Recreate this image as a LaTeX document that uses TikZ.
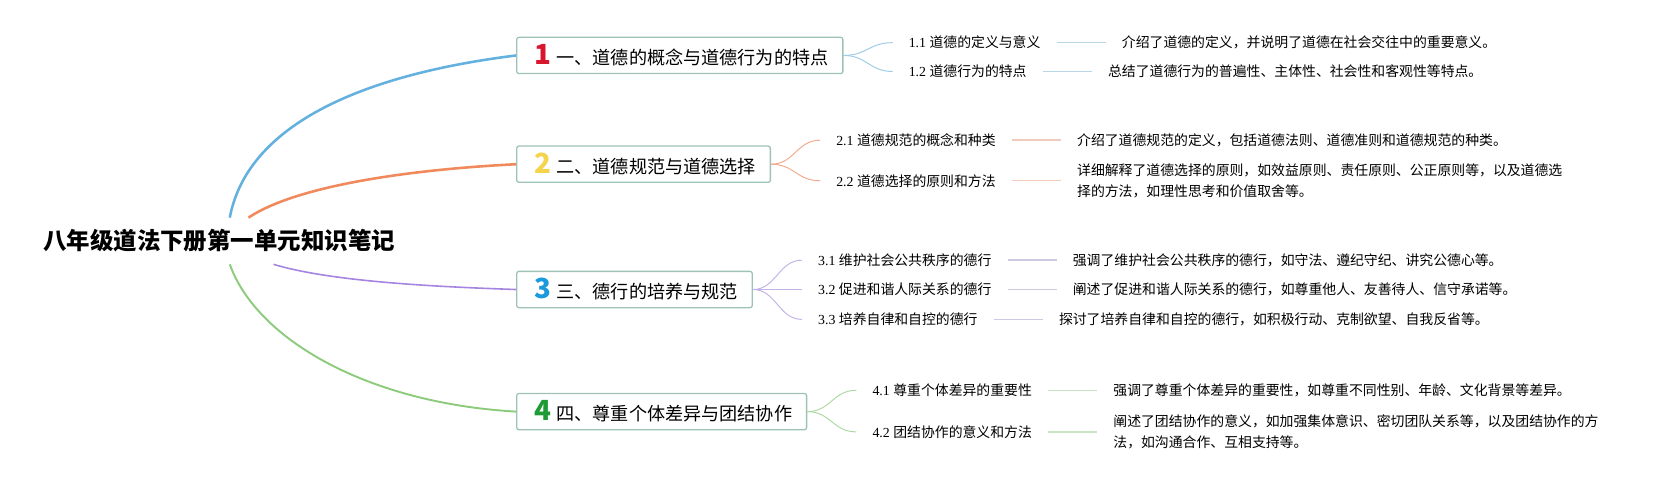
\documentclass[tikz,border=0pt]{standalone}
\usepackage{fontspec}
\setmainfont{Liberation Serif}
\newfontfamily\cjk{Noto Sans CJK SC}
\usetikzlibrary{positioning}

\definecolor{boxline}{HTML}{9FC2B8}
\definecolor{numred}{HTML}{D8172F}
\definecolor{numyellow}{HTML}{F4D44C}
\definecolor{numblue}{HTML}{1C9ADE}
\definecolor{numgreen}{HTML}{1F9B35}
\definecolor{bluemain}{HTML}{64B1DF}
\definecolor{bluefan}{HTML}{9DCAE6}
\definecolor{bluenote}{HTML}{B9D6E5}
\definecolor{orangemain}{HTML}{F0895C}
\definecolor{orangefan}{HTML}{F2AA8C}
\definecolor{orangenote}{HTML}{F1CBBB}
\definecolor{purplemain}{HTML}{A685E0}
\definecolor{purplefan}{HTML}{C1B3E6}
\definecolor{purplenote}{HTML}{CEC8E2}
\definecolor{greenmain}{HTML}{8DCB7C}
\definecolor{greenfan}{HTML}{ADD8A3}
\definecolor{greennote}{HTML}{C9E3C2}

\newcommand\topicnum[2]{\hspace{3pt}{\color{#1}\bfseries\fontsize{26}{26}\selectfont #2}\hspace{5pt}}

\begin{document}
\begin{tikzpicture}[x=1pt, y=-1pt,
    every node/.style={inner sep=0pt},
    topic/.style={draw=boxline, line width=1.2pt, rounded corners=2pt, fill=white,
        minimum height=34pt, inner xsep=13.5pt, anchor=west,
        font=\cjk\fontsize{17}{20}\selectfont},
    sub/.style={font=\fontsize{13}{20}\selectfont},
    note/.style={font=\cjk\fontsize{13}{20}\selectfont, align=left},
    fan/.style={line width=0.9pt},
    leaf/.style={line width=1.4pt, shorten <=15pt, shorten >=15pt}]
    \useasboundingbox (0,0) rectangle (1568,450);

    \node[font=\cjk\bfseries\fontsize{22}{22}\selectfont, inner ysep=11pt] (root) at (205.5,226) {八年级道法下册第一单元知识笔记};

    \node[topic] (b1) at (484,52) {\topicnum{numred}{1}一、道德的概念与道德行为的特点};
    \node[topic] (b2) at (484,154) {\topicnum{numyellow}{2}二、道德规范与道德选择};
    \node[topic] (b3) at (484,271.5) {\topicnum{numblue}{3}三、德行的培养与规范};
    \node[topic] (b4) at (484,386) {\topicnum{numgreen}{4}四、尊重个体差异与团结协作};

    \node[sub, right=61pt of b1, yshift=12pt] (s11) {1.1 {\cjk 道德的定义与意义}};
    \node[sub, right=61pt of b1, yshift=-15pt] (s12) {1.2 {\cjk 道德行为的特点}};
    \node[sub, right=61pt of b2, yshift=22.5pt] (s21) {2.1 {\cjk 道德规范的概念和种类}};
    \node[sub, right=61pt of b2, yshift=-15.5pt] (s22) {2.2 {\cjk 道德选择的原则和方法}};
    \node[sub, right=61pt of b3, yshift=27.5pt] (s31) {3.1 {\cjk 维护社会公共秩序的德行}};
    \node[sub, right=61pt of b3] (s32) {3.2 {\cjk 促进和谐人际关系的德行}};
    \node[sub, right=61pt of b3, yshift=-28pt] (s33) {3.3 {\cjk 培养自律和自控的德行}};
    \node[sub, right=61pt of b4, yshift=20pt] (s41) {4.1 {\cjk 尊重个体差异的重要性}};
    \node[sub, right=61pt of b4, yshift=-19pt] (s42) {4.2 {\cjk 团结协作的意义和方法}};

    \node[note, right=76pt of s11] (d11) {介绍了道德的定义，并说明了道德在社会交往中的重要意义。};
    \node[note, right=76pt of s12] (d12) {总结了道德行为的普遍性、主体性、社会性和客观性等特点。};
    \node[note, right=76pt of s21] (d21) {介绍了道德规范的定义，包括道德法则、道德准则和道德规范的种类。};
    \node[note, right=76pt of s22] (d22) {详细解释了道德选择的原则，如效益原则、责任原则、公正原则等，以及道德选\\择的方法，如理性思考和价值取舍等。};
    \node[note, right=76pt of s31] (d31) {强调了维护社会公共秩序的德行，如守法、遵纪守纪、讲究公德心等。};
    \node[note, right=76pt of s32] (d32) {阐述了促进和谐人际关系的德行，如尊重他人、友善待人、信守承诺等。};
    \node[note, right=76pt of s33] (d33) {探讨了培养自律和自控的德行，如积极行动、克制欲望、自我反省等。};
    \node[note, right=76pt of s41] (d41) {强调了尊重个体差异的重要性，如尊重不同性别、年龄、文化背景等差异。};
    \node[note, right=76pt of s42] (d42) {阐述了团结协作的意义，如加强集体意识、密切团队关系等，以及团结协作的方\\法，如沟通合作、互相支持等。};

    \draw[bluemain, line width=2.4pt] ([xshift=10pt]root.north) .. controls +(15,-80) and +(-160,20) .. (b1.west);
    \draw[orangemain, line width=2.4pt] ([xshift=27.5pt]root.north) .. controls +(45,-30) and +(-100,5) .. (b2.west);
    \draw[purplemain, line width=1.5pt] ([xshift=51pt]root.south) .. controls +(50,15) and +(-90,-3) .. (b3.west);
    \draw[greenmain, line width=1.8pt] ([xshift=10pt]root.south) .. controls +(25,70) and +(-140,-8) .. (b4.west);

    \draw[bluefan, fan] (b1.east) .. controls +(22,0) and +(-22,0) .. ([xshift=-15pt]s11.west);
    \draw[bluefan, fan] (b1.east) .. controls +(22,0) and +(-22,0) .. ([xshift=-15pt]s12.west);
    \draw[orangefan, fan] (b2.east) .. controls +(22,0) and +(-22,0) .. ([xshift=-15pt]s21.west);
    \draw[orangefan, fan] (b2.east) .. controls +(22,0) and +(-22,0) .. ([xshift=-15pt]s22.west);
    \draw[purplefan, fan] (b3.east) .. controls +(22,0) and +(-22,0) .. ([xshift=-15pt]s31.west);
    \draw[purplefan, fan] (b3.east) .. controls +(22,0) and +(-22,0) .. ([xshift=-15pt]s32.west);
    \draw[purplefan, fan] (b3.east) .. controls +(22,0) and +(-22,0) .. ([xshift=-15pt]s33.west);
    \draw[greenfan, fan] (b4.east) .. controls +(22,0) and +(-22,0) .. ([xshift=-15pt]s41.west);
    \draw[greenfan, fan] (b4.east) .. controls +(22,0) and +(-22,0) .. ([xshift=-15pt]s42.west);

    \draw[bluenote, leaf] (s11.east) -- (d11.west);
    \draw[bluenote, leaf] (s12.east) -- (d12.west);
    \draw[orangenote, leaf] (s21.east) -- (d21.west);
    \draw[orangenote, leaf] (s22.east) -- (d22.west);
    \draw[purplenote, leaf] (s31.east) -- (d31.west);
    \draw[purplenote, leaf] (s32.east) -- (d32.west);
    \draw[purplenote, leaf] (s33.east) -- (d33.west);
    \draw[greennote, leaf] (s41.east) -- (d41.west);
    \draw[greennote, leaf] (s42.east) -- (d42.west);
\end{tikzpicture}
\end{document}
